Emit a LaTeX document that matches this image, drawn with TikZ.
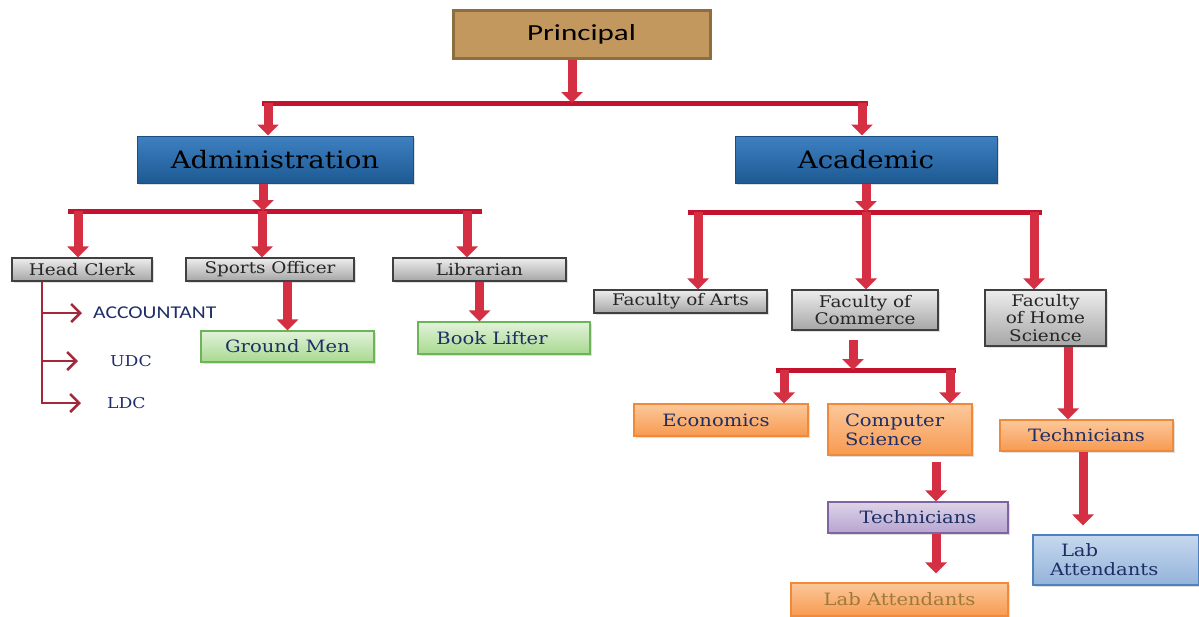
\documentclass[tikz,border=0pt]{standalone}
\usepackage{fontspec}
\setmainfont{DejaVu Serif}[FakeStretch=1.15]
\newfontfamily\calfont{Carlito}[FakeStretch=1.2]
\newfontfamily\prfont{Carlito}[FakeStretch=1.35]
\usetikzlibrary{arrows.meta,shadows}
\definecolor{arrowred}{HTML}{D42F43}
\definecolor{barred}{HTML}{C4132E}
\definecolor{hcred}{HTML}{A3283A}
\definecolor{txtblue}{HTML}{1F2F66}
\definecolor{prfill}{HTML}{C3985E}
\definecolor{prdraw}{HTML}{8D6E3F}
\definecolor{adtop}{HTML}{3E80C2}
\definecolor{adbot}{HTML}{1D5A93}
\definecolor{addraw}{HTML}{1B4F7F}
\definecolor{gtop}{HTML}{EDEDED}
\definecolor{gbot}{HTML}{A6A6A6}
\definecolor{gdraw}{HTML}{404040}
\definecolor{grtop}{HTML}{E2F2DA}
\definecolor{grbot}{HTML}{A8D98F}
\definecolor{grdraw}{HTML}{6DB35A}
\definecolor{ortop}{HTML}{FCC89B}
\definecolor{orbot}{HTML}{F79A50}
\definecolor{ordraw}{HTML}{F08A3A}
\definecolor{putop}{HTML}{DDD3E8}
\definecolor{pubot}{HTML}{B7A5CF}
\definecolor{pudraw}{HTML}{8064A2}
\definecolor{bltop}{HTML}{C6D8EE}
\definecolor{blbot}{HTML}{93B3DA}
\definecolor{bldraw}{HTML}{4F81BD}
\definecolor{labbrown}{HTML}{9C7A3C}
\begin{document}
\begin{tikzpicture}[x=1pt,y=-1pt,
  box/.style={rectangle, inner sep=0pt, align=center,
    drop shadow={shadow xshift=2pt, shadow yshift=-2pt, opacity=0.25}},
  principalbox/.style={box, fill=prfill, draw=prdraw, line width=3pt,
    font=\prfont\fontsize{23}{26}\selectfont},
  bigbox/.style={box, top color=adtop, bottom color=adbot, draw=addraw, line width=1pt,
    font=\fontsize{24}{28}\selectfont},
  graybox/.style={box, top color=gtop, bottom color=gbot, draw=gdraw, line width=1.2pt,
    text=black!85, font=\fontsize{16}{17.5}\selectfont},
  greenbox/.style={box, top color=grtop, bottom color=grbot, draw=grdraw, line width=1.2pt,
    text=txtblue, font=\fontsize{17}{19}\selectfont},
  orangebox/.style={box, top color=ortop, bottom color=orbot, draw=ordraw, line width=1.2pt,
    text=txtblue, font=\fontsize{17}{19}\selectfont},
  purplebox/.style={box, top color=putop, bottom color=pubot, draw=pudraw, line width=1.2pt,
    text=txtblue, font=\fontsize{17}{19}\selectfont},
  bluebox/.style={box, top color=bltop, bottom color=blbot, draw=bldraw, line width=1.2pt,
    text=txtblue, font=\fontsize{17}{19}\selectfont},
  lbl/.style={inner sep=0pt, anchor=west, text=txtblue},
  blk/.style={draw=arrowred, line width=9pt, -{Triangle[width=21pt,length=11pt]}},
  bar/.style={draw=barred, line width=5pt},
  hcl/.style={draw=hcred, line width=2.5pt, -{Straight Barb[length=9pt,width=18pt]}}
]
\useasboundingbox (0,0) rectangle (1199,616);

% nodes
\node[principalbox, minimum width=257pt, minimum height=48pt] (principal) at (581.5,34) {Principal};
\node[bigbox, minimum width=276pt, minimum height=47pt] (admin) at (275,159.5) {Administration};
\node[bigbox, minimum width=262pt, minimum height=47pt] (academic) at (866,159.5) {Academic};

\node[graybox, minimum width=140pt, minimum height=23pt] (headclerk) at (82,269.5) {Head Clerk};
\node[graybox, minimum width=168pt, minimum height=23pt] (sports) at (270,269.5) {Sports Officer};
\node[graybox, minimum width=173pt, minimum height=23pt] (librarian) at (479.5,269.5) {Librarian};

\node[greenbox, minimum width=173pt, minimum height=31pt] (groundmen) at (287.5,346.5) {Ground Men};
\node[greenbox, minimum width=172pt, minimum height=32pt] (booklifter) at (504,338) {Book Lifter\hspace*{24pt}};

\node[lbl, font=\calfont\fontsize{18}{20}\selectfont] (acc) at (93,313) {ACCOUNTANT};
\node[lbl, font=\fontsize{15}{16}\selectfont] (udc) at (110,361) {UDC};
\node[lbl, font=\fontsize{15}{16}\selectfont] (ldc) at (107,403) {LDC};

\node[graybox, minimum width=173pt, minimum height=23pt] (arts) at (680.5,301.5) {Faculty of Arts};
\node[graybox, minimum width=146pt, minimum height=40pt] (commerce) at (865,310) {Faculty of\\Commerce};
\node[graybox, minimum width=121pt, minimum height=56pt] (home) at (1045.5,318) {Faculty\\of Home\\Science};

\node[orangebox, minimum width=174pt, minimum height=32pt] (econ) at (721,420) {Economics\hspace*{10pt}};
\node[orangebox, text width=110pt, inner xsep=17pt, minimum height=51pt, align=left] (cs) at (900,429.5) {Computer\\Science};
\node[orangebox, minimum width=173pt, minimum height=31pt] (tech1) at (1086.5,435.5) {Technicians};
\node[purplebox, minimum width=180pt, minimum height=31pt] (tech2) at (918,517.5) {Technicians};
\node[orangebox, minimum width=217pt, minimum height=33pt, text=labbrown] (lab1) at (899.5,599.5) {Lab Attendants};
\node[bluebox, text width=132pt, inner xsep=17pt, minimum height=50pt, align=left] (lab2) at (1116,560) {\hspace*{11pt}Lab\\Attendants};

% Principal level
\coordinate (p0) at (572,103);
\coordinate (pL) at (262,103);
\coordinate (pR) at (868,103);
\coordinate (aA) at (268,103);
\coordinate (aB) at (862,103);
\draw[bar] (pL) -- (pR);
\draw[blk] (principal.south -| p0) -- (p0);
\draw[blk] (aA) -- (aA |- admin.north);
\draw[blk] (aB) -- (aB |- academic.north);

% Administration level
\coordinate (d0) at (263,211);
\coordinate (dL) at (68,211);
\coordinate (dR) at (482,211);
\coordinate (d1) at (78,211);
\coordinate (d2) at (262,211);
\coordinate (d3) at (467,211);
\draw[bar] (dL) -- (dR);
\draw[blk] (admin.south -| d0) -- (d0);
\draw[blk] (d1) -- (d1 |- headclerk.north);
\draw[blk] (d2) -- (d2 |- sports.north);
\draw[blk] (d3) -- (d3 |- librarian.north);

% Head clerk branches
\coordinate (t) at (42,300);
\draw[hcl] (headclerk.south -| t) |- ([xshift=-26pt]ldc.west);
\draw[hcl] (t |- acc.west) -- ([xshift=-11pt]acc.west);
\draw[hcl] (t |- udc.west) -- ([xshift=-32pt]udc.west);

% Sports / Librarian
\draw[blk] (sports.south -| groundmen.north) -- (groundmen.north);
\draw[blk] (librarian.south) -- (librarian.south |- booklifter.north);

% Academic level
\coordinate (c0) at (866,212);
\coordinate (cL) at (688,212);
\coordinate (cR) at (1042,212);
\coordinate (c1) at (698,212);
\coordinate (c2) at (866,212);
\coordinate (c3) at (1034,212);
\draw[bar] (cL) -- (cR);
\draw[blk] (academic.south -| c0) -- (c0);
\draw[blk] (c1) -- (c1 |- arts.north);
\draw[blk] (c2) -- (c2 |- commerce.north);
\draw[blk] (c3) -- (c3 |- home.north);

% Commerce
\coordinate (m0) at (853,370);
\coordinate (mL) at (776,370);
\coordinate (mR) at (956,370);
\coordinate (m1) at (784,370);
\coordinate (m2) at (950,370);
\draw[bar] (mL) -- (mR);
\draw[blk] ([yshift=-9pt]commerce.south -| m0) -- (m0);
\draw[blk] (m1) -- (m1 |- econ.north);
\draw[blk] (m2) -- (m2 |- cs.north);

% lower chains
\coordinate (h1) at (1068,400);
\coordinate (h2) at (1083,480);
\coordinate (k1) at (936,480);
\draw[blk] (home.south -| h1) -- (h1 |- tech1.north);
\draw[blk] ([yshift=-6pt]cs.south -| k1) -- (k1 |- tech2.north);
\draw[blk] (tech2.south -| k1) -- ([yshift=9pt]k1 |- lab1.north);
\draw[blk] (tech1.south -| h2) -- ([yshift=9pt]h2 |- lab2.north);
\end{tikzpicture}
\end{document}
